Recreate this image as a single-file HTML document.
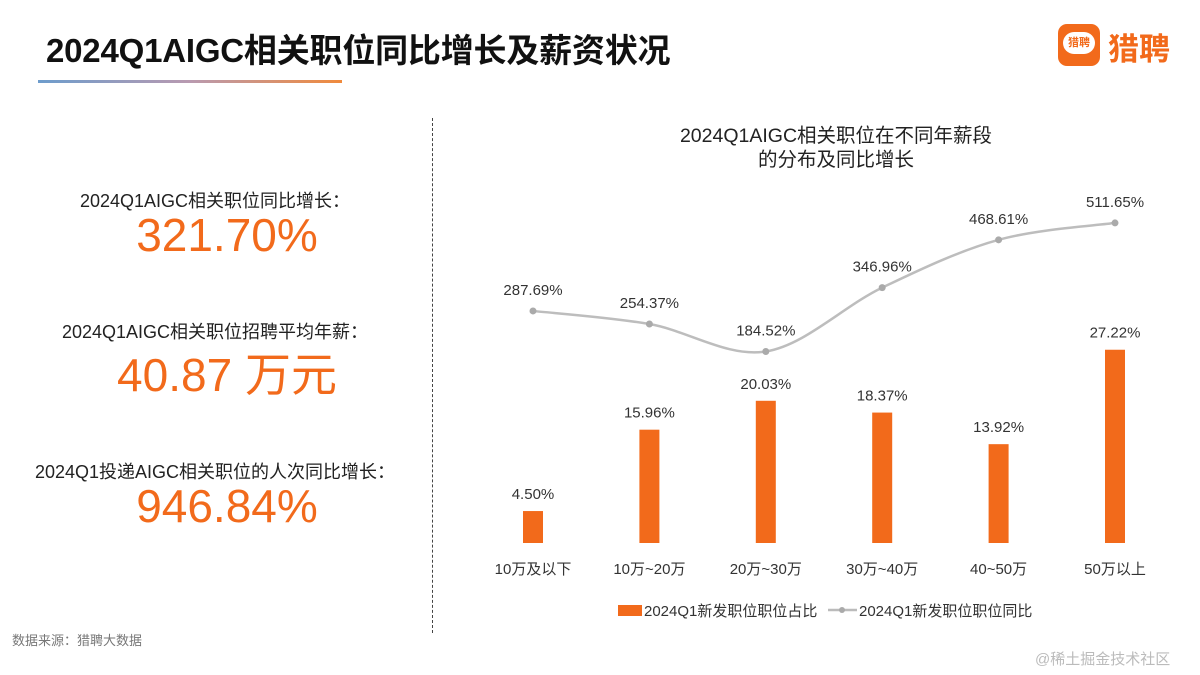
<!DOCTYPE html>
<html lang="zh">
<head>
<meta charset="utf-8">
<style>
  html,body{margin:0;padding:0;background:#fff;}
  body{width:1200px;height:675px;position:relative;overflow:hidden;font-family:"Liberation Sans","Noto Sans CJK SC",sans-serif;color:#222;}
  .abs{position:absolute;}
  .title{left:46px;top:24px;font-size:33px;font-weight:bold;color:#111;letter-spacing:-0.2px;white-space:nowrap;}
  .underline{left:38px;top:80px;width:304px;height:3px;background:linear-gradient(90deg,#6d9ccc,#b99ab0,#f08a3c);}
  .label{font-size:18px;color:#222;white-space:nowrap;text-align:center;width:380px;}
  .big{font-size:46px;color:#f26a1b;white-space:nowrap;text-align:center;width:380px;}
  .src{left:12px;top:630px;font-size:13px;color:#777;}
  .wm{left:1035px;top:648px;font-size:15px;color:#bbb;}
  .divider{left:432px;top:118px;height:515px;border-left:1.5px dashed #444;}
  .logo-box{left:1058px;top:24px;width:42px;height:42px;border-radius:9px;background:#f26a1b;}
  .logo-bubble{left:1063px;top:32px;width:32px;height:22px;border-radius:12px;background:#fff;font-size:11px;color:#f26a1b;text-align:center;line-height:22px;font-weight:bold;}
  .logo-text{left:1108px;top:24px;font-size:31px;color:#f26a1b;font-weight:bold;}
</style>
</head>
<body>
<div class="abs title">2024Q1AIGC相关职位同比增长及薪资状况</div>
<div class="abs underline"></div>

<div class="abs logo-box"></div>
<div class="abs logo-bubble">猎聘</div>
<div class="abs logo-text">猎聘</div>

<div class="abs label" style="left:25px;top:187px;">2024Q1AIGC相关职位同比增长：</div>
<div class="abs big" style="left:37px;top:208px;">321.70%</div>
<div class="abs label" style="left:25px;top:318px;">2024Q1AIGC相关职位招聘平均年薪：</div>
<div class="abs big" style="left:37px;top:339px;">40.87 万元</div>
<div class="abs label" style="left:25px;top:458px;">2024Q1投递AIGC相关职位的人次同比增长：</div>
<div class="abs big" style="left:37px;top:479px;">946.84%</div>

<div class="abs src">数据来源：猎聘大数据</div>
<div class="abs wm">@稀土掘金技术社区</div>
<div class="abs divider"></div>

<svg class="abs" style="left:0;top:0" width="1200" height="675" id="chart" font-family="Liberation Sans, Noto Sans CJK SC, sans-serif">
  <text x="836" y="142" text-anchor="middle" font-size="19.5" fill="#222">2024Q1AIGC相关职位在不同年薪段</text>
  <text x="836" y="166" text-anchor="middle" font-size="19.5" fill="#222">的分布及同比增长</text>
  <g id="bars"></g>
  <g id="line"></g>
  <g id="xlabels"></g>
  <g>
    <rect x="618" y="605" width="24" height="11" fill="#f26a1b"/>
    <text x="644" y="616" font-size="15" fill="#333">2024Q1新发职位职位占比</text>
    <line x1="828" y1="610" x2="857" y2="610" stroke="#bbb" stroke-width="2.5"/>
    <circle cx="842" cy="610" r="3" fill="#aaa"/>
    <text x="859" y="616" font-size="15" fill="#333">2024Q1新发职位职位同比</text>
  </g>
</svg>

<script>
const categories = ["10万及以下","10万~20万","20万~30万","30万~40万","40~50万","50万以上"];
const shareValues = [4.50, 15.96, 20.03, 18.37, 13.92, 27.22];
const growthValues = [287.69, 254.37, 184.52, 346.96, 468.61, 511.65];
const shareLabels = ["4.50%","15.96%","20.03%","18.37%","13.92%","27.22%"];
const growthLabels = ["287.69%","254.37%","184.52%","346.96%","468.61%","511.65%"];

const NS = "http://www.w3.org/2000/svg";
function xPos(i){ return 533 + i*116.4; }
function yBar(v){ return 543 - v*7.1; }
function yLine(v){ return 424 - v*0.393; }
function mk(tag, attrs, parent){
  const e = document.createElementNS(NS, tag);
  for (const k in attrs) e.setAttribute(k, attrs[k]);
  parent.appendChild(e);
  return e;
}
const bars = document.getElementById("bars");
const lineG = document.getElementById("line");
const xl = document.getElementById("xlabels");

shareValues.forEach((v,i)=>{
  const r = mk("rect",{x:xPos(i)-10,y:yBar(v),width:20,height:543-yBar(v),fill:"#f26a1b"},bars);
  
  
  const t = mk("text",{x:xPos(i),y:yBar(v)-12,"text-anchor":"middle","font-size":"15",fill:"#333"},bars);
  t.textContent = shareLabels[i];
  
  
  const c = mk("text",{x:xPos(i),y:574,"text-anchor":"middle","font-size":"15",fill:"#333"},xl);
  c.textContent = categories[i];
  
  
});

const pts = growthValues.map((v,i)=>[xPos(i), yLine(v)]);
let d = "M"+pts[0][0]+","+pts[0][1];
for (let i=0;i<pts.length-1;i++){
  const p0 = pts[Math.max(i-1,0)], p1 = pts[i], p2 = pts[i+1], p3 = pts[Math.min(i+2,pts.length-1)];
  const t = 0.25;
  const c1 = [p1[0]+(p2[0]-p0[0])*t/1.5, p1[1]+(p2[1]-p0[1])*t/1.5];
  const c2 = [p2[0]-(p3[0]-p1[0])*t/1.5, p2[1]-(p3[1]-p1[1])*t/1.5];
  d += " C"+c1[0]+","+c1[1]+" "+c2[0]+","+c2[1]+" "+p2[0]+","+p2[1];
}
const path = mk("path",{d:d,fill:"none",stroke:"#bdbdbd","stroke-width":"2.5"},lineG);


pts.forEach((p,i)=>{
  const c = mk("circle",{cx:p[0],cy:p[1],r:3.5,fill:"#aaa"},lineG);
  
  
  const t = mk("text",{x:p[0],y:p[1]-16,"text-anchor":"middle","font-size":"15",fill:"#333"},lineG);
  t.textContent = growthLabels[i];
  
  
});
</script>
</body>
</html>
